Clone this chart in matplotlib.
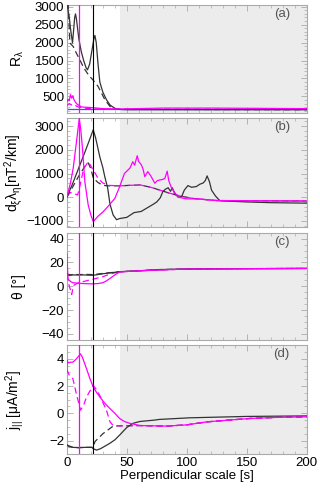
import matplotlib
matplotlib.use("Agg")
import matplotlib.pyplot as plt
from matplotlib.ticker import MultipleLocator

plt.rcParams['font.family'] = ['Liberation Sans', 'DejaVu Sans']
plt.rcParams['mathtext.fontset'] = 'custom'
plt.rcParams['mathtext.rm'] = 'Liberation Sans'
plt.rcParams['mathtext.it'] = 'Liberation Sans'

DARK = '#333333'
MAGENTA = '#ff00ff'
FRAME = '#aaaaaa'

# vertical markers and shaded range
X_MAG = 10
X_BLK = 22
SHADE_FROM = 44

# ---- panel (a): R_lambda
a_blk_x = [0.5, 1, 2, 3, 4, 4.7, 5.5, 6.5, 7.2, 8, 10, 12, 14, 16, 17.2, 19, 21, 22.5, 23.4, 24.5,
           26, 27.5, 30, 33, 36, 40, 43, 50, 100, 150, 200]
a_blk_y = [3100, 2900, 2700, 2400, 2150, 1990, 2300, 2700, 2800, 2650, 2100, 1750, 1500, 1300, 1240,
           1400, 1800, 2100, 2200, 2000, 1400, 900, 620, 410, 260, 170, 140, 130, 130, 130, 130]
a_blkd_x = [1, 2.5, 5.3, 8, 10.8, 14, 18, 22, 26, 31.7, 36, 40, 43, 200]
a_blkd_y = [3100, 1990, 1890, 1700, 1520, 1300, 1100, 950, 780, 410, 220, 160, 140, 130]
a_mag_x = [0, 1, 2, 3, 4, 5, 6, 7, 8, 10, 12.5, 20, 30, 45, 80, 120, 200]
a_mag_y = [350, 420, 380, 550, 450, 520, 400, 350, 300, 250, 205, 190, 160, 150, 175, 175, 160]
a_magd_x = [0, 2, 4, 6, 8, 10, 15, 25, 40, 200]
a_magd_y = [250, 300, 260, 280, 230, 200, 170, 150, 140, 140]
a_ref = 160

# ---- panel (b): d_xi lambda_eta
b_blk_x = [0, 5, 10, 15, 18, 22, 24, 27.5, 30, 31.7, 34, 36, 38.6, 41.5, 44, 50, 56, 62, 67, 72, 75,
           78, 80, 82, 84.5, 86.5, 88, 90, 93, 95.7, 98, 101, 104, 108, 111, 113.7, 115.5, 117, 119,
           120.7, 124, 127.7, 137, 150, 170, 200]
b_blk_y = [0, 600, 1250, 1900, 2300, 2850, 2500, 1700, 1250, 850, 400, -300, -750, -950, -900, -850,
           -650, -600, -450, -300, -200, -20, 230, 330, 400, 250, 400, 150, 0, 20, 300, 490, 420, 450,
           550, 600, 700, 900, 650, 300, 50, -150, -170, -200, -230, -250]
b_mag_x = [0, 3, 5.3, 8, 10.3, 11.5, 13, 15, 17.8, 20, 22, 26, 30.3, 35, 40, 44, 48, 52.6, 55, 56.5,
           58.7, 60, 62, 63.5, 65, 67.5, 70, 73.4, 75.5, 77.6, 80, 81.8, 83.7, 85, 87.4, 90, 92.9, 99.8,
           110, 125, 150, 200]
b_mag_y = [0, 600, 1230, 2340, 3300, 2900, 2070, 650, -330, -750, -1030, -800, -610, -350, -50, 440,
           1000, 1230, 1500, 1350, 1750, 1500, 1380, 1200, 870, 1080, 900, 590, 700, 730, 750, 800,
           1100, 700, 380, 200, 0, -70, -70, -140, -150, -160]
b_blkd_x = [0, 5, 10, 15, 17.8, 20, 22, 26, 30, 35, 44, 52, 61, 70, 77.6, 85, 94.6, 105, 115, 125, 150, 200]
b_blkd_y = [0, 450, 900, 1300, 1450, 1200, 810, 620, 500, 480, 480, 500, 520, 420, 300, 180, 50, -50,
            -100, -140, -150, -160]
b_magd_x = [0, 3, 6, 9, 11, 14, 17.8, 22, 26, 30, 35, 44, 52, 61, 70, 77.6, 85, 94.6, 105, 115, 125, 150, 200]
b_magd_y = [50, 200, 150, 100, 500, 1200, 1500, 1150, 800, 600, 500, 480, 500, 520, 420, 300, 180, 50,
            -50, -100, -140, -150, -160]

# ---- panel (c): theta
c_blk_x = [0, 1, 3, 5, 10, 15, 22, 30, 38, 44, 60, 77, 100, 150, 200]
c_blk_y = [11, 10, 9.5, 9.5, 9.5, 9.5, 9.2, 10.5, 11.5, 12.2, 13, 14, 14.5, 14.8, 15]
c_blkd_x = [0, 2, 5, 10, 15, 22, 30, 44, 60, 77, 100, 150, 200]
c_blkd_y = [10, 9, 10, 9.8, 10, 9.8, 10.8, 12.2, 13, 14, 14.5, 14.8, 15]
c_mag_x = [0, 0.5, 1, 2, 3, 5, 10, 15, 22, 26, 30, 33, 36, 40, 44, 60, 100, 200]
c_mag_y = [28, 15, 6, 5, 4, 3, 2.5, 2.2, 2, 2.3, 3, 4.5, 6.6, 9.5, 12, 13, 14.5, 15]
c_magd_x = [0, 1, 2, 3, 4, 5, 6, 8, 10, 14, 18, 22, 26, 30, 34, 37, 41, 44, 60, 100, 200]
c_magd_y = [10, 5, 0, -3, -7, -2, 1, 2, 3, 4, 5, 6, 7, 8, 9.5, 10.5, 11.5, 12.2, 13, 14.5, 15]

# ---- panel (d): j_parallel
d_tail_x = [61, 83, 100, 116.6, 135, 152.7, 175, 200]
d_tail_y = [-0.9, -0.94, -0.85, -0.63, -0.5, -0.38, -0.3, -0.26]
d_mag_x = [0, 0.3, 1, 3, 5, 8, 11.4, 13, 16.4, 19, 22, 25, 27.5, 32, 35.9, 40, 44, 48, 52.6, 57] + d_tail_x
d_mag_y = [3.0, 3.9, 3.7, 3.75, 3.75, 4.0, 4.36, 4.1, 3.27, 2.6, 1.93, 1.5, 1.2, 0.7, 0.35, 0.0, -0.38,
           -0.6, -0.74, -0.82] + d_tail_y
d_magd_x = [0, 2, 5, 8, 11.4, 14, 16.4, 19, 22, 25, 27.5, 30, 33, 36, 38.6, 44] + d_tail_x
d_magd_y = [3.2, 2.8, 2.54, 1.4, 0.23, 0.6, 1.2, 1.6, 2.05, 1.7, 1.3, 0.8, 0.23, -0.63, -0.9, -0.92] + d_tail_y
d_blk_x = [0, 2, 5, 10, 15, 20.7, 22, 24.8, 28, 32, 35.9, 40, 44, 50, 55, 61, 73, 77, 102.6, 150, 200]
d_blk_y = [-2.33, -2.45, -2.5, -2.52, -2.5, -2.5, -2.6, -2.7, -2.6, -2.4, -2.2, -1.95, -1.6, -1.04,
           -0.74, -0.6, -0.5, -0.45, -0.33, -0.23, -0.19]
d_blkd_x = [0, 5, 10, 15, 22, 23.4, 30, 38.6, 44] + d_tail_x
d_blkd_y = [-2.33, -2.5, -2.52, -2.5, -2.5, -2.08, -1.5, -0.94, -0.92] + d_tail_y

fig = plt.figure(figsize=(3.2, 4.91), dpi=100, facecolor='w')

# left, bottom, width, height (figure fraction)
boxes = [(0.209, 0.770, 0.749, 0.220),
         (0.209, 0.538, 0.749, 0.222),
         (0.209, 0.308, 0.749, 0.218),
         (0.209, 0.075, 0.749, 0.222)]

panels = [
    dict(label='(a)', ylabel=r'R$_\lambda$', ylim=(40, 3050), minor=100,
         ticks=[500, 1000, 1500, 2000, 2500, 3000],
         solid=[(a_blk_x, a_blk_y, DARK), (a_mag_x, a_mag_y, MAGENTA)],
         dashed=[(a_blkd_x, a_blkd_y, DARK), (a_magd_x, a_magd_y, MAGENTA)]),
    dict(label='(b)', ylabel=r'd$_\xi\lambda_\eta$[nT$^2$/km]', ylim=(-1250, 3350), minor=200,
         ticks=[-1000, 0, 1000, 2000, 3000],
         solid=[(b_blk_x, b_blk_y, DARK), (b_mag_x, b_mag_y, MAGENTA)],
         dashed=[(b_blkd_x, b_blkd_y, DARK), (b_magd_x, b_magd_y, MAGENTA)]),
    dict(label='(c)', ylabel=r'θ [°]', ylim=(-45, 45), minor=5,
         ticks=[-40, -20, 0, 20, 40],
         solid=[(c_blk_x, c_blk_y, DARK), (c_mag_x, c_mag_y, MAGENTA)],
         dashed=[(c_blkd_x, c_blkd_y, DARK), (c_magd_x, c_magd_y, MAGENTA)]),
    dict(label='(d)', ylabel=r'j$_{||}$ [μA/m$^2$]', ylim=(-3, 5), minor=0.5,
         ticks=[-2, 0, 2, 4],
         solid=[(d_blk_x, d_blk_y, DARK), (d_mag_x, d_mag_y, MAGENTA)],
         dashed=[(d_blkd_x, d_blkd_y, DARK), (d_magd_x, d_magd_y, MAGENTA)]),
]

for i, (box, p) in enumerate(zip(boxes, panels)):
    ax = fig.add_axes(box)
    ax.axvspan(SHADE_FROM, 200, color='#ececec', lw=0, zorder=0)
    if i == 0:
        ax.axhline(a_ref, color='#3355ff', lw=0.9, zorder=2)
    for xs, ys, c in p['dashed']:
        ax.plot(xs, ys, color=c, lw=0.9, ls=(0, (5, 3)), zorder=3)
    for xs, ys, c in p['solid']:
        ax.plot(xs, ys, color=c, lw=0.9, ls='-', zorder=4)
    ax.axvline(X_MAG, color=MAGENTA, lw=0.9, zorder=5)
    ax.axvline(X_BLK, color='black', lw=0.8, zorder=5)

    ax.set_xlim(0, 200)
    ax.set_ylim(*p['ylim'])
    ax.set_yticks(p['ticks'])
    ax.yaxis.set_minor_locator(MultipleLocator(p['minor']))
    ax.xaxis.set_major_locator(MultipleLocator(50))
    ax.xaxis.set_minor_locator(MultipleLocator(10))
    ax.tick_params(which='both', direction='in', top=True, right=True, colors=FRAME,
                   labelcolor='black', labelsize=9.5, pad=2)
    ax.tick_params(which='major', length=4, width=0.6)
    ax.tick_params(which='minor', length=2, width=0.5)
    for spine in ax.spines.values():
        spine.set_color(FRAME)
        spine.set_linewidth(0.8)
    if i < 3:
        ax.tick_params(labelbottom=False)
    else:
        ax.set_xlabel('Perpendicular scale [s]', fontsize=9.5, labelpad=1)
    ax.set_ylabel(p['ylabel'], fontsize=10)
    ax.yaxis.set_label_coords(-0.17, 0.5)
    ax.text(0.93, 0.97, p['label'], transform=ax.transAxes, ha='right', va='top',
            fontsize=9.5, color='#555555')

plt.savefig('out.png', dpi=100)
